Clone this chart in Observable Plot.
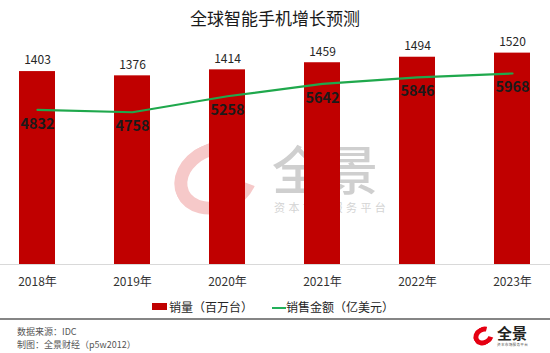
<!DOCTYPE html>
<html>
<head>
<meta charset="utf-8">
<script src="https://cdn.jsdelivr.net/npm/d3@7"></script>
<script src="https://cdn.jsdelivr.net/npm/@observablehq/plot@0.6"></script>
<style>
  html, body { margin: 0; padding: 0; background: #fff; }
  body { font-family: "Noto Sans CJK SC", "Noto Sans", sans-serif; }
  #wrap { position: relative; width: 550px; height: 353px; overflow: hidden; background: #fff; }
  .abs { position: absolute; white-space: nowrap; }
  .tight { font-family: "Liberation Sans", "Noto Sans CJK SC", sans-serif; }
  #title { left: 0; top: 7px; width: 550px; text-align: center; font-size: 17px; line-height: 21px; color: #1a1a1a; }
  .leg { font-size: 12px; line-height: 14px; color: #262626; }
  .foot { font-size: 9px; line-height: 11px; color: #555; }
  #wm-ring { left: 173px; top: 143px; width: 60px; height: 44px; border: 13px solid #f6c9c9; border-radius: 50%; border-right-color: transparent; transform: rotate(-25deg); }
  #wm-text { left: 272px; top: 146px; font-size: 52px; line-height: 52px; color: #cfcfcf; font-weight: 500; letter-spacing: 2px; }
  #wm-sub { left: 274px; top: 202px; font-size: 11px; line-height: 13px; color: #d4d4d4; letter-spacing: 3.4px; }
  #logo-ring { left: 473px; top: 327px; width: 11px; height: 8px; border: 5px solid #e50012; border-radius: 50%; border-right-color: transparent; transform: rotate(-30deg); }
  #logo-text { left: 497px; top: 326px; font-size: 15px; line-height: 15px; font-weight: 700; color: #222; }
  #logo-sub { left: 497px; top: 343px; font-size: 3.6px; line-height: 4.5px; color: #555; letter-spacing: 0.3px; }
</style>
</head>
<body>
<div id="wrap">
  <div id="wm-ring" class="abs"></div>
  <div id="wm-text" class="abs tight">全景</div>
  <div id="wm-sub" class="abs tight">资本市场服务平台</div>
  <div id="p1" class="abs" style="left:0;top:0"></div>
  <div id="p2" class="abs" style="left:0;top:0"></div>
  <div id="title" class="abs">全球智能手机增长预测</div>
  <div class="abs" style="left:152px;top:303px;width:15px;height:7px;background:#c00000"></div>
  <div class="abs leg" style="left:169px;top:300px">销量（百万台）</div>
  <div class="abs" style="left:272px;top:307px;width:14px;height:2px;background:#22b05a"></div>
  <div class="abs leg" style="left:286px;top:300px">销售金额（亿美元）</div>
  <div class="abs" style="left:0;top:318px;width:550px;height:2px;background:#858585"></div>
  <div class="abs foot" style="left:17px;top:325.5px">数据来源：IDC</div>
  <div class="abs foot" style="left:17px;top:338.5px">制图：全景财经（p5w2012）</div>
  <div id="logo-ring" class="abs"></div>
  <div id="logo-text" class="abs tight">全景</div>
  <div id="logo-sub" class="abs tight">资本市场服务平台</div>
</div>
<script>
const years = ["2018", "2019", "2020", "2021", "2022", "2023"];
const volume = [1403, 1376, 1414, 1459, 1494, 1520];   // 销量（百万台）
const amount = [4832, 4758, 5258, 5642, 5846, 5968];   // 销售金额（亿美元）
const volDomain = [180, 1600];
const amtDomain = [0, 7000];

const data = years.map((y, i) => ({year: y, volume: volume[i], amount: amount[i]}));
const font = '"Noto Sans CJK SC", "Noto Sans", sans-serif';

const common = {
  width: 550,
  height: 353,
  marginTop: 40,
  marginBottom: 89,
  marginLeft: 0,
  marginRight: 0,
  style: {background: "transparent", fontFamily: font, overflow: "visible"},
  x: {type: "band", domain: years, range: [19, 531], paddingInner: 0.62, paddingOuter: 0, label: null}
};

const p1 = Plot.plot({
  ...common,
  y: {domain: volDomain, axis: null},
  marks: [
    Plot.ruleY([volDomain[0]], {stroke: "#d9d9d9", strokeWidth: 1}),
    Plot.barY(data, {x: "year", y1: () => volDomain[0], y2: "volume", fill: "#c00000"}),
    Plot.text(data, {x: "year", y: "volume", text: d => String(d.volume), dy: -11, fontSize: 12, fill: "#262626"}),
    Plot.axisX({tickSize: 0, tickPadding: 13, fontSize: 12, fill: "#333", tickFormat: d => d + "年"})
  ]
});
document.getElementById("p1").appendChild(p1);

const p2 = Plot.plot({
  ...common,
  x: {...common.x, axis: null},
  y: {domain: amtDomain, axis: null},
  marks: [
    Plot.lineY(data, {x: "year", y: "amount", stroke: "#1fa84c", strokeWidth: 2.2}),
    Plot.text(data, {x: "year", y: "amount", text: d => String(d.amount), dy: 14, fontSize: 14.5, fontWeight: "bold", fill: "#1a1a1a"})
  ]
});
document.getElementById("p2").appendChild(p2);
</script>
</body>
</html>
